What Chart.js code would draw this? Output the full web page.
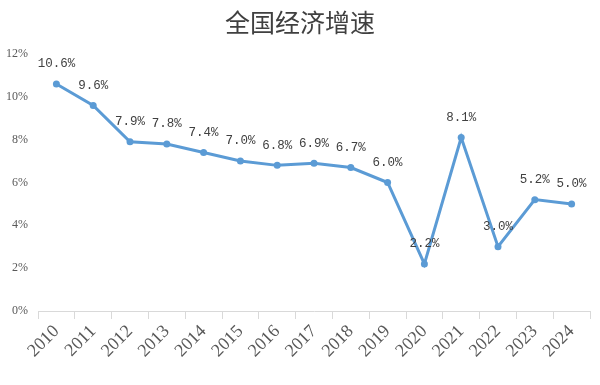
<!DOCTYPE html>
<html>
<head>
<meta charset="utf-8">
<script src="https://cdn.jsdelivr.net/npm/chart.js@4"></script>
<style>
  html, body { margin: 0; padding: 0; background: #fff; }
  #wrap { width: 600px; height: 385px; position: relative; }
</style>
</head>
<body>
<div id="wrap"><canvas id="myChart"></canvas></div>
<script>
// years and growth rates (%)
const years = ['2010', '2011', '2012', '2013', '2014', '2015', '2016', '2017', '2018', '2019', '2020', '2021', '2022', '2023', '2024'];
const growth = [10.6, 9.6, 7.9, 7.8, 7.4, 7.0, 6.8, 6.9, 6.7, 6.0, 2.2, 8.1, 3.0, 5.2, 5.0];
const yTicks = [0, 2, 4, 6, 8, 10, 12];
const titleText = '全国经济增速';

// title drawn by hand so the chart area stays put
const titlePlugin = {
  id: 'titleDraw',
  afterDraw(chart) {
    const c = chart.ctx;
    c.save();
    c.font = '25px "Noto Sans CJK SC"';
    c.fillStyle = '#404040';
    c.textAlign = 'center';
    c.textBaseline = 'middle';
    c.fillText(titleText, 300, 22);
    c.restore();
  }
};

// value labels above each point
const valueLabels = {
  id: 'valueLabels',
  afterDatasetsDraw(chart) {
    const c = chart.ctx;
    const meta = chart.getDatasetMeta(0);
    c.save();
    c.font = '12.5px "Liberation Mono"';
    c.fillStyle = '#404040';
    c.textAlign = 'center';
    c.textBaseline = 'middle';
    meta.data.forEach((pt, i) => {
      c.fillText(growth[i].toFixed(1) + '%', pt.x, pt.y - 20);
    });
    c.restore();
  }
};

const config = {
  type: 'line',
  data: {
    labels: years,
    datasets: [{
      data: growth,
      borderColor: '#5b9bd5',
      backgroundColor: '#5b9bd5',
      borderWidth: 3,
      pointRadius: 3.5,
      pointBackgroundColor: '#5b9bd5',
      pointBorderWidth: 0,
      tension: 0,
      fill: false
    }]
  },
  options: {
    responsive: true,
    maintainAspectRatio: false,
    animation: false,
    layout: { padding: { top: 54, right: 10, left: 0, bottom: 0 } },
    plugins: {
      legend: { display: false },
      tooltip: { enabled: false }
    },
    scales: {
      x: {
        offset: true,
        grid: {
          display: true,
          offset: true,
          drawOnChartArea: false,
          drawTicks: true,
          tickLength: 8,
          color: '#d9d9d9'
        },
        border: { display: true, color: '#d9d9d9', width: 1 },
        ticks: {
          autoSkip: false,
          maxRotation: 45,
          minRotation: 45,
          padding: 2,
          color: '#595959',
          font: { family: '"Liberation Serif"', size: 18 }
        },
        afterFit(scale) { scale.height = 74; }
      },
      y: {
        min: 0,
        max: 12,
        afterBuildTicks(scale) { scale.ticks = yTicks.map(v => ({ value: v })); },
        grid: { display: false },
        border: { display: false },
        ticks: {
          color: '#595959',
          padding: 2,
          font: { family: '"Liberation Serif"', size: 12 },
          callback: v => v + '%'
        },
        afterFit(scale) { scale.width = 38; }
      }
    }
  },
  plugins: [titlePlugin, valueLabels]
};

new Chart(document.getElementById('myChart').getContext('2d'), config);
</script>
</body>
</html>
